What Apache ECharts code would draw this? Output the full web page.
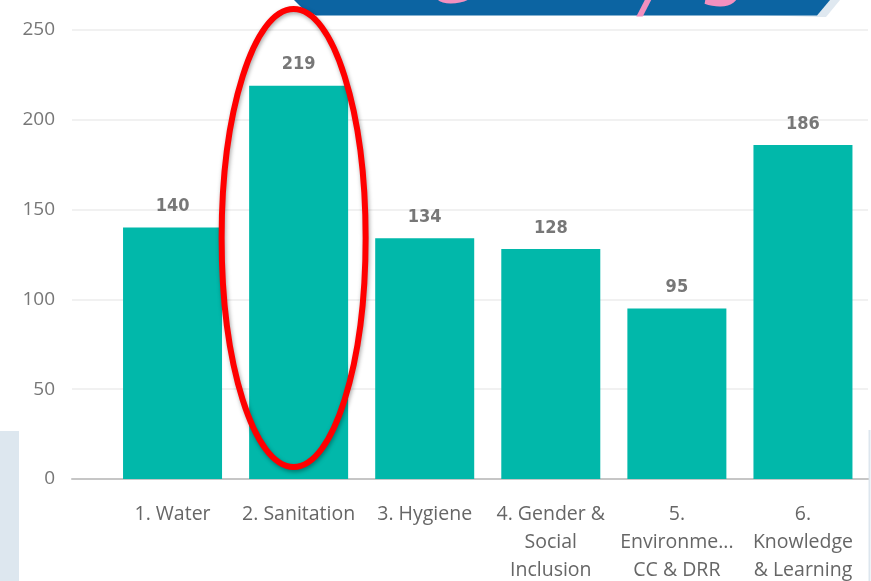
<!DOCTYPE html>
<html>
<head>
<meta charset="utf-8">
<script src="https://cdn.jsdelivr.net/npm/echarts@6/dist/echarts.min.js"></script>
<style>
html,body{margin:0;padding:0;background:#fff;}
#c{width:871px;height:581px;}
</style>
</head>
<body>
<div id="c"></div>
<script>
var categories = ['1. Water', '2. Sanitation', '3. Hygiene', '4. Gender &\nSocial\nInclusion', '5.\nEnvironme...\nCC & DRR', '6.\nKnowledge\n& Learning'];
var values = [140, 219, 134, 128, 95, 186];
var yTicks = [0, 50, 100, 150, 200, 250];
var highlightIndex = 1;

var chart = echarts.init(document.getElementById('c'), null, {renderer: 'canvas'});
var yMin = yTicks[0], yMax = yTicks[yTicks.length - 1], yStep = yTicks[1] - yTicks[0];

var option = {
  backgroundColor: '#ffffff',
  animation: false,
  grid: [
    {left: 109.5, right: 5, top: 30, bottom: 102, containLabel: false, outerBoundsMode: 'none'},
    {left: 72, right: 3, top: 30, bottom: 102, containLabel: false, outerBoundsMode: 'none'}
  ],
  xAxis: [
    {
      type: 'category', gridIndex: 0, data: categories,
      axisLine: {show: false}, axisTick: {show: false},
      axisLabel: {color: '#666', fontFamily: 'Open Sans', fontSize: 19.5, lineHeight: 28, margin: 21, interval: 0}
    },
    {
      type: 'value', gridIndex: 1, min: 0, max: 1, show: true,
      axisLine: {show: true, onZero: false, lineStyle: {color: '#c6c6c6', width: 2}},
      axisTick: {show: false}, axisLabel: {show: false}, splitLine: {show: false}
    }
  ],
  yAxis: [
    {
      type: 'value', gridIndex: 0, min: yMin, max: yMax, interval: yStep,
      axisLine: {show: false}, axisTick: {show: false}, axisLabel: {show: false}, splitLine: {show: false}
    },
    {
      type: 'value', gridIndex: 1, min: yMin, max: yMax, interval: yStep,
      axisLine: {show: false}, axisTick: {show: false},
      axisLabel: {color: '#777', fontFamily: 'Open Sans', fontSize: 19, margin: 17},
      splitLine: {show: true, lineStyle: {color: '#ececec', width: 1.5}}
    }
  ],
  series: [
    {
      type: 'bar', xAxisIndex: 0, yAxisIndex: 0, data: values, barWidth: 99,
      itemStyle: {color: '#01B8AA'},
      label: {show: true, position: 'top', distance: 12, color: '#777', fontFamily: 'DejaVu Sans Condensed', fontWeight: 'bold', fontSize: 18}
    }
  ]
};
chart.setOption(option);

var p = chart.convertToPixel({xAxisIndex: 0, yAxisIndex: 0}, [highlightIndex, 0]);
var cx = p[0] - 5;
var pinkStyle = function (t) {
  return {text: t, fill: '#f390bf', font: 'bold italic 56px "DejaVu Sans"', align: 'center', verticalAlign: 'bottom', shadowColor: 'rgba(0,20,60,0.6)', shadowBlur: 4, shadowOffsetY: 2};
};

chart.setOption({
  graphic: [
    {type: 'rect', shape: {x: 0, y: 431, width: 19, height: 150}, style: {fill: '#dde7ef'}, z: 0},
    {type: 'line', shape: {x1: 869.5, y1: 430, x2: 869.5, y2: 581}, style: {stroke: '#dde6ee', lineWidth: 2}, z: 0},
    {type: 'polygon', shape: {points: [[296, 0], [840, 0], [826, 17], [818, 17]]}, style: {fill: '#dfe8f0'}, z: 10},
    {type: 'polygon', shape: {points: [[294, 0], [830, 0], [817, 15.5], [316, 15.5], [302, 8]]}, style: {fill: '#0c64a2'}, z: 11},
    {type: 'text', x: 453, y: 15, style: pinkStyle('G'), z: 12},
    {type: 'text', x: 652, y: 24, style: pinkStyle('/'), z: 12},
    {type: 'text', x: 724, y: 18, style: pinkStyle('S'), z: 12},
    {type: 'ellipse', shape: {cx: cx, cy: 238, rx: 72, ry: 229}, style: {fill: null, stroke: '#ff0000', lineWidth: 6, shadowColor: 'rgba(0,0,0,0.35)', shadowBlur: 4, shadowOffsetX: 1, shadowOffsetY: 2}, z: 20}
  ]
});
</script>
</body>
</html>
